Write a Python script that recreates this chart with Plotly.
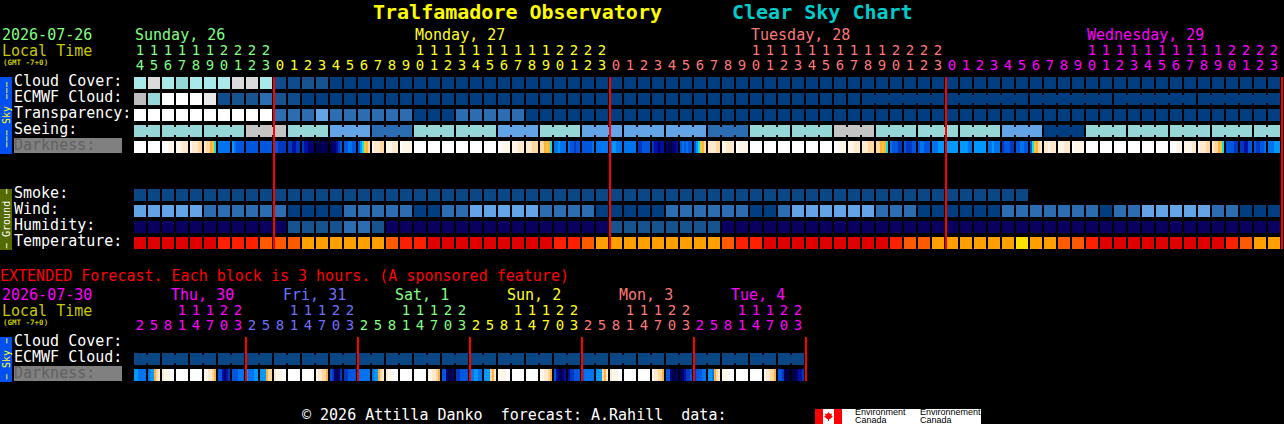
import plotly.graph_objects as go

W, H = 1284, 424
MONO = "DejaVu Sans Mono"

# ---------- data ----------
hours_main = [14, 15, 16, 17, 18, 19, 20, 21, 22, 23] + list(range(24)) * 3
hours_ext = [2, 5, 8, 11, 14, 17, 20, 23] * 6
days_main = ["Sunday, 26", "Monday, 27", "Tuesday, 28", "Wednesday, 29"]
days_ext = ["Thu, 30", "Fri, 31", "Sat, 1", "Sun, 2", "Mon, 3", "Tue, 4"]
labels_sky = ["Cloud Cover:", "ECMWF Cloud:", "Transparency:", "Seeing:"]
labels_ground = ["Smoke:", "Wind:", "Humidity:", "Temperature:"]
labels_ext = ["Cloud Cover:", "ECMWF Cloud:"]

# Level codes per hour (see palette)
cloud_cover = list("FHFEFFFHHF" "BBMM" + "A" * 68)
ecmwf_cloud = list("LEJJJIBMMCMB" + "A" * 70)
transparency = list("JJJJJJJJJJ" "CCCDCCCCCC" "AAA" "CCCCC" + "A" * 54)
seeing = list("EE" "EEE" "EEE" "GGG" "EEE" "DDD" "CCC" "EEE" "EEE" "DDD" "EEE" "DDD" "DDD" "DDD"
              "CCC" "EEE" "EEE" "GGG" "EEE" "EEE" "EEE" "DDD" "AAA" "EEE" "EEE" "EEE" "EEE" "EE")
smoke = list("K" * 64)
wind = list("DDDDD" "CCCCCC" "AAAA" "CCCCC" "AA" "CC" "DDDDD" "CCCC" "AAAAA" "CCCCCC" "AA" "C"
            "DDDDDD" "CCC" "AAAAAA" "CCCCCCC" "A" "CC" "DDDDD" "CC" "AAA")
humidity = list("N" * 11 + "MMMM" "CC" "M" + "N" * 16 + "M" * 8 + "N" * 40)
temperature = list("RRRRRR" "SSS" "TTT" "UUUUUU" "T" "SS" + "R" * 9 + "SS" "T" + "U" * 9 + "T" "SS"
                   + "R" * 9 + "ST" "T" "UUUUUU" "V" "UU" "TT" "S" + "R" * 9 + "ST" "UU")
ecmwf_ext = list("K" * 48)

seeing_groups = [2] + [3] * 26 + [2]
ecmwf_groups = [1] * 52 + [6] * 5
ecmwf_ext_groups = [2] * 24

darkness = [
    [0], [0], [0,0,0,1,1,1], [1,1,1,2,2,2], [1,2,2,2,3,3], [2,3,3,4,5,6], [8], [7,8,9,9,9,9], [9], [9],
    [9,9,10,10,10,10], [10,10,11,11,10,10], [10,11,11,12,12,12], [13,13,13,12,13,13], [13,12,12,11,10,9],
    [9,9,8,8,9,9], [9,7,6,5,4,3], [1,2,2,2,3,3], [1,1,1,2,2,2], [0,1,1,1,1,1],
    [0], [0], [0], [0], [0], [0], [0,0,1,1,1,1], [1,1,1,2,2,2], [2,2,2,3,3,3], [3,3,4,5,4,6],
    [8,8,7,8,8,8], [8,9,9,10,9,9], [9,9,9,9,9,8], [8], [8,7,7,8,8,8], [8], [10,10,9,9,9,9],
    [10,11,11,12,11,11], [12,13,13,12,12,11], [9,8,9,8,9,9], [9,7,6,5,4,3], [2,2,2,2,3,3],
    [1,1,2,2,2,2], [0,1,1,1,1,1], [0], [0], [0], [0], [0], [0], [0,0,1,1,1,1], [1,1,1,2,2,2],
    [2,2,2,3,3,3], [3,3,4,5,4,6], [8,9,9,9,10,10], [9,10,10,10,9,9], [9,8,8,9,9,9], [8,8,8,7,7,7],
    [7], [7,7,7,7,8,8], [7], [8,8,7,8,8,8], [10,9,9,9,10,10], [9,9,8,8,9,9], [9,6,5,4,3,2],
    [2,2,1,2,2,2], [1,1,1,2,2,2], [0,1,1,1,1,1], [0], [0], [0], [0], [0], [0], [0,0,0,1,1,1],
    [1,1,1,1,2,2], [1,2,2,2,3,3], [2,3,3,4,5,6], [9,9,9,9,10,10], [10,10,11,11,9,9],
    [9,10,10,9,9,8], [8,8,8,7,7,7],
]
darkness_ext = [
    [7,7,8,8,8,8], [8,7,7,4,3,2], [2,1,1,1,0,0], [0], [0], [1,1,2,2,3,4], [9,9,11,12,11,10], [9,9,9,8,8,8],
    [7,8,8,8,7,7], [7,7,7,4,3,3], [2,1,1,1,0,0], [0], [0], [1,2,2,3,3,4], [9,10,12,13,12,10], [10,10,9,9,9,9],
    [8], [8,7,7,4,3,2], [2,1,1,0,0,0], [0], [0], [1,1,2,2,3,4], [9,9,12,13,13,12], [10,10,9,9,9,9],
    [8,8,7,7,8,8], [7,7,7,3,4,2], [1,1,1,1,0,0], [0], [0], [1,1,2,2,3,4], [9,11,12,13,12,11], [11,10,10,9,9,9],
    [9,8,8,8,8,8], [7,7,7,3,4,2], [2,1,1,1,0,0], [0], [0], [1,2,2,3,3,4], [9,9,12,13,13,12], [13,12,11,10,10,9],
    [10,9,9,9,8,8], [7,7,8,4,3,2], [1,1,1,0,0,0], [0], [0], [1,2,2,3,3,4], [9,9,10,13,13,13], [13,13,12,11,11,10],
]

midnights_main = [10, 34, 58, 82]
midnights_ext = [8, 16, 24, 32, 40, 48]

# ---------- styles ----------
palette = {
    "A": "#003E7F", "B": "#0F4C8C", "K": "#0A4784", "M": "#17538F", "C": "#2C6CB0", "D": "#63A4E6",
    "E": "#96D6D6", "F": "#AAE9E9", "G": "#C4C4C4", "H": "#DBDBDB", "I": "#E9E9E9", "J": "#FFFFFF",
    "L": "#BEBEBE", "N": "#0A0060", "R": "#E00000", "S": "#FF2000", "T": "#FF5A00", "U": "#FFA000",
    "V": "#FFE000",
}
dark_colors = ["#FFFFFF", "#FFF6EA", "#FFE9CE", "#FFD8A0", "#FFB040", "#FFC830", "#10E0E0", "#0098FF",
               "#0074EE", "#0056DC", "#0038C0", "#0010A0", "#000070", "#000048"]
GREEN, YELLOW, SALMON, MAGENTA, BLUE = "#80FF80", "#FFFF20", "#FF7878", "#FF00FF", "#7070FF"
OLIVE_TXT = "#C8C800"


def stepped(colors):
    n = len(colors)
    out = []
    for i, c in enumerate(colors):
        out += [[i / n, c], [(i + 1) / n, c]]
    return out


codes = list(palette)
scale = stepped(list(palette.values()))
zrange = dict(zmin=-0.5, zmax=len(codes) - 0.5, colorscale=scale, showscale=False, hoverinfo="skip")
dscale = dict(zmin=-0.5, zmax=len(dark_colors) - 0.5, colorscale=stepped(dark_colors), showscale=False, hoverinfo="skip")


def idx(series, n=82):
    row = [codes.index(c) for c in series]
    return row + [None] * (n - len(row))


def connectors(series, groups, n=82):
    row = [None] * n
    i = 0
    for g in groups:
        for k in range(g - 1):
            row[i + k] = codes.index(series[i + k])
        i += g
    return row


def expand(cells):
    out = []
    for c in cells:
        out += (c * 6 if len(c) == 1 else c) + [None]
    return out


fig = go.Figure()

rows_main = {0: cloud_cover, 1: ecmwf_cloud, 2: transparency, 3: seeing, 7: smoke, 8: wind, 9: humidity, 10: temperature}
z_main = [idx(rows_main[r]) if r in rows_main else [None] * 82 for r in range(11)]
fig.add_trace(go.Heatmap(z=z_main, x0=0, dx=1, y0=0, dy=1, xgap=2, ygap=4, **zrange))

z_conn = [[None] * 82 for _ in range(11)]
z_conn[1] = connectors(ecmwf_cloud, ecmwf_groups)
z_conn[3] = connectors(seeing, seeing_groups)
fig.add_trace(go.Heatmap(z=z_conn, x0=0.5, dx=1, y0=0, dy=1, xgap=12, ygap=8, **zrange))

EXT_Y = 17.25
fig.add_trace(go.Heatmap(z=[idx(ecmwf_ext, 48)], x0=0, dx=1, y0=EXT_Y, dy=1, xgap=2, ygap=4, **zrange))
fig.add_trace(go.Heatmap(z=[connectors(ecmwf_ext, ecmwf_ext_groups, 48)], x0=0.5, dx=1, y0=EXT_Y, dy=1,
                         xgap=12, ygap=8, **zrange))

fig.add_trace(go.Heatmap(z=[expand(darkness)], x0=-2.5 / 7, dx=1 / 7, y0=4, dy=1, ygap=4, **dscale))
fig.add_trace(go.Heatmap(z=[expand(darkness_ext)], x0=-2.5 / 7, dx=1 / 7, y0=EXT_Y + 1, dy=1, ygap=4, **dscale))

# red midnight lines
OFF = -3 / 7
for cols, y0, y1 in ((midnights_main, -0.375, 10.375), (midnights_ext, 15.875, 18.625)):
    xs, ys = [], []
    for c in cols:
        xs += [c + OFF, c + OFF, None]
        ys += [y0, y1, None]
    fig.add_trace(go.Scatter(x=xs, y=ys, mode="lines", line=dict(color="#FF0000", width=2), hoverinfo="skip", showlegend=False))


# hour digits
def digit_traces(hours, color_for, y_tens, y_units):
    colors = [color_for(i) for i in range(len(hours))]
    idxs_t = [i for i, h in enumerate(hours) if h >= 10]
    fig.add_trace(go.Scatter(x=idxs_t, y=[y_tens] * len(idxs_t), mode="text",
                             text=[str(hours[i] // 10) for i in idxs_t],
                             textfont=dict(family=MONO, size=14, color=[colors[i] for i in idxs_t]),
                             textposition="middle center", hoverinfo="skip", showlegend=False, cliponaxis=False))
    fig.add_trace(go.Scatter(x=list(range(len(hours))), y=[y_units] * len(hours), mode="text",
                             text=[str(h % 10) for h in hours],
                             textfont=dict(family=MONO, size=14, color=colors),
                             textposition="middle center", hoverinfo="skip", showlegend=False, cliponaxis=False))


main_cols = [GREEN, YELLOW, SALMON, MAGENTA]
ext_cols = [MAGENTA, BLUE, GREEN, YELLOW, SALMON, MAGENTA]
digit_traces(hours_main, lambda i: main_cols[0 if i < 10 else 1 + (i - 10) // 24], (51 - 83) / 16, (66 - 83) / 16)
digit_traces(hours_ext, lambda i: ext_cols[i // 8], (311 - 83) / 16, (326 - 83) / 16)

ann = []


def T(x, y, text, color="#FFFFFF", size=15, bold=False, family=MONO, anchor="left", angle=0):
    ann.append(dict(x=x / W, y=1 - y / H, xref="paper", yref="paper", text=f"<b>{text}</b>" if bold else text,
                    showarrow=False, xanchor=anchor, yanchor="middle", textangle=angle, borderpad=0, borderwidth=0,
                    font=dict(family=family, size=size, color=color)))


T(373, 12, "Tralfamadore Observatory", "#FFFF00", 20, True)
T(732, 12, "Clear Sky Chart", "#00CCCC", 20, True)
T(2, 35, "2026-07-26", GREEN)
T(2, 51, "Local Time", OLIVE_TXT)
T(3, 62, "(GMT -7+0)", OLIVE_TXT, 7.5, True)
for x, d, c in zip((135, 415, 751, 1087), days_main, main_cols):
    T(x, 35, d, c)
for i, lab in enumerate(labels_sky):
    T(14, 81 + 16 * i, lab)
T(14, 145, "Darkness:", "#606060")
for i, lab in enumerate(labels_ground):
    T(14, 193 + 16 * i, lab)
T(0, 276, "EXTENDED Forecast. Each block is 3 hours. (A sponsored feature)", "#FF0000")
T(2, 295, "2026-07-30", MAGENTA)
T(2, 311, "Local Time", OLIVE_TXT)
T(3, 322, "(GMT -7+0)", OLIVE_TXT, 7.5, True)
for x, d, c in zip((171, 283, 395, 507, 619, 731), days_ext, ext_cols):
    T(x, 295, d, c)
for i, lab in enumerate(labels_ext):
    T(14, 341 + 16 * i, lab)
T(14, 373, "Darkness:", "#606060")
T(6, 115, "−−− Sky −−−", "#FFFF20", 10, anchor="center", angle=-90)
T(6, 219, "− Ground −", "#FFFFFF", 10, anchor="center", angle=-90)
T(6, 359, "− Sky −", "#FFFF20", 10, anchor="center", angle=-90)
T(302, 415, "© 2026 Attilla Danko  forecast: A.Rahill  data:")
T(855, 412, "Environment", "#000000", 9, family="Liberation Sans")
T(855, 420, "Canada", "#000000", 9, family="Liberation Sans")
T(920, 412, "Environnement", "#000000", 9, family="Liberation Sans")
T(920, 420, "Canada", "#000000", 9, family="Liberation Sans")


def R(x0, y0, x1, y1, color):
    return dict(type="rect", xref="paper", yref="paper", x0=x0 / W, x1=x1 / W, y0=1 - y0 / H, y1=1 - y1 / H,
                fillcolor=color, line_width=0, layer="below")


leaf_pts = [(828.5, 412), (830, 414), (832, 413.5), (831.5, 416), (833, 416.5), (830, 419), (829, 419), (829, 421),
            (828, 421), (828, 419), (827, 419), (824, 416.5), (825.5, 416), (825, 413.5), (827, 414)]
leaf = "M " + " L ".join(f"{x / W:.5f},{1 - y / H:.5f}" for x, y in leaf_pts) + " Z"
shapes = [
    R(0, 77, 12, 154, "#0050F0"), R(0, 189, 12, 250, "#556B00"), R(0, 337, 12, 382, "#0050F0"),
    R(14, 138, 122, 153, "#808080"), R(14, 366, 122, 381, "#808080"),
    R(815, 409, 823, 424, "#FF0000"), R(823, 409, 834, 424, "#FFFFFF"), R(834, 409, 842, 424, "#FF0000"),
    R(842, 409, 981, 424, "#FFFFFF"),
    dict(type="path", xref="paper", yref="paper", path=leaf, fillcolor="#FF0000", line_width=0, layer="below"),
]

fig.update_layout(
    width=W, height=H, margin=dict(l=0, r=0, t=0, b=0), paper_bgcolor="#000000", plot_bgcolor="#000000",
    showlegend=False, annotations=ann, shapes=shapes,
    xaxis=dict(visible=False, range=[-10, (W - 140) / 14], fixedrange=True),
    yaxis=dict(visible=False, range=[(H - 83) / 16, -83 / 16], fixedrange=True),
)
fig.write_html("out.html", config=dict(displayModeBar=False),
               post_script="document.body.style.margin='0';document.body.style.background='#000';")
